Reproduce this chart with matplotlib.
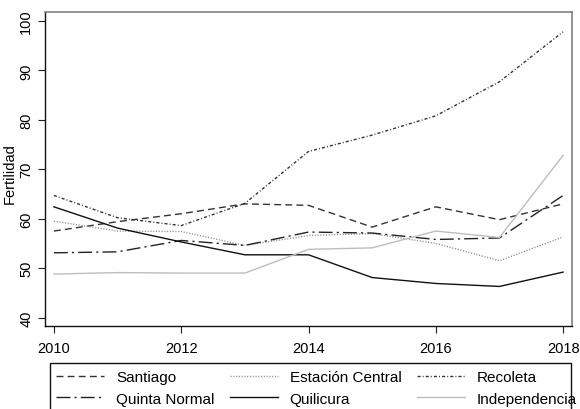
import matplotlib
matplotlib.use("Agg")
import matplotlib.pyplot as plt
from matplotlib.patches import Rectangle

plt.rcParams['font.family'] = ['Liberation Sans', 'DejaVu Sans']

years = [2010, 2011, 2012, 2013, 2014, 2015, 2016, 2017, 2018]

santiago = [57.5, 59.4, 61.0, 63.0, 62.7, 58.3, 62.4, 59.8, 63.0]
estacion_central = [59.5, 57.5, 57.4, 54.6, 56.6, 57.0, 55.0, 51.5, 56.3]
recoleta = [64.7, 60.2, 58.6, 63.1, 73.6, 76.9, 80.8, 87.7, 97.8]
quinta_normal = [53.1, 53.3, 55.6, 54.6, 57.3, 57.1, 55.8, 56.1, 64.7]
quilicura = [62.4, 58.1, 55.3, 52.7, 52.7, 48.1, 46.9, 46.3, 49.2]
independencia = [48.8, 49.1, 49.0, 49.0, 53.8, 54.1, 57.5, 56.2, 72.8]

names = ['Santiago', 'Estación Central', 'Recoleta',
         'Quinta Normal', 'Quilicura', 'Independencia']
xticks = [2010, 2012, 2014, 2016, 2018]
yticks = [40, 50, 60, 70, 80, 90, 100]

fig = plt.figure(figsize=(5.8, 4.1), dpi=100)
ax = fig.add_axes([45 / 580, 1 - 327 / 410, 527 / 580, 314 / 410])

lw = 1.0
ax.plot(years, santiago, color='#333333', lw=lw, ls=(0, (5, 3)), label=names[0])
ax.plot(years, estacion_central, color='#8c8c8c', lw=lw, ls=(0, (0.8, 1.2)), label=names[1])
ax.plot(years, recoleta, color='#333333', lw=lw, ls=(0, (2.2, 1.5, 0.7, 1.5)), label=names[2])
ax.plot(years, quinta_normal, color='#222222', lw=lw, ls=(0, (10, 3, 1.5, 3)), label=names[3])
ax.plot(years, quilicura, color='#111111', lw=lw, ls='-', label=names[4])
ax.plot(years, independencia, color='#bdbdbd', lw=lw, ls='-', label=names[5])

ax.set_xlim(2009.86, 2018.14)
ax.set_ylim(38.3, 101.8)
ax.set_xticks(xticks)
ax.set_yticks(yticks)
ax.tick_params(axis='both', direction='out', length=5, width=0.8, labelsize=10.5,
               color='#222222')
ax.tick_params(axis='x', pad=5.5)
ax.tick_params(axis='y', pad=3.5)
for lab in ax.get_yticklabels():
    lab.set_rotation(90)
    lab.set_va('center')

ax.set_ylabel('Fertilidad', fontsize=10.5)
ax.yaxis.set_label_coords(-0.054, 0.49)

for side in ['top', 'right']:
    ax.spines[side].set_color('#808080')
    ax.spines[side].set_linewidth(1.2)
for side in ['left', 'bottom']:
    ax.spines[side].set_color('#111111')
    ax.spines[side].set_linewidth(1.0)

# legend fills row by row in the reference, matplotlib fills by column
handles, labels = ax.get_legend_handles_labels()
order = [0, 3, 1, 4, 2, 5]
leg = fig.legend([handles[i] for i in order], [labels[i] for i in order],
                 loc='upper left', ncol=3, bbox_to_anchor=(56 / 580, 1 - 371 / 410),
                 fontsize=11, frameon=False, handlelength=3.14,
                 handletextpad=0.79, borderaxespad=0, borderpad=0,
                 labelspacing=0.5, columnspacing=1.0)
fig.patches.append(Rectangle((50 / 580, -0.01), 521 / 580, 1 - 364 / 410 + 0.01,
                             transform=fig.transFigure, fill=False,
                             edgecolor='#111111', linewidth=1.0))

fig.savefig('out.png', dpi=100)
